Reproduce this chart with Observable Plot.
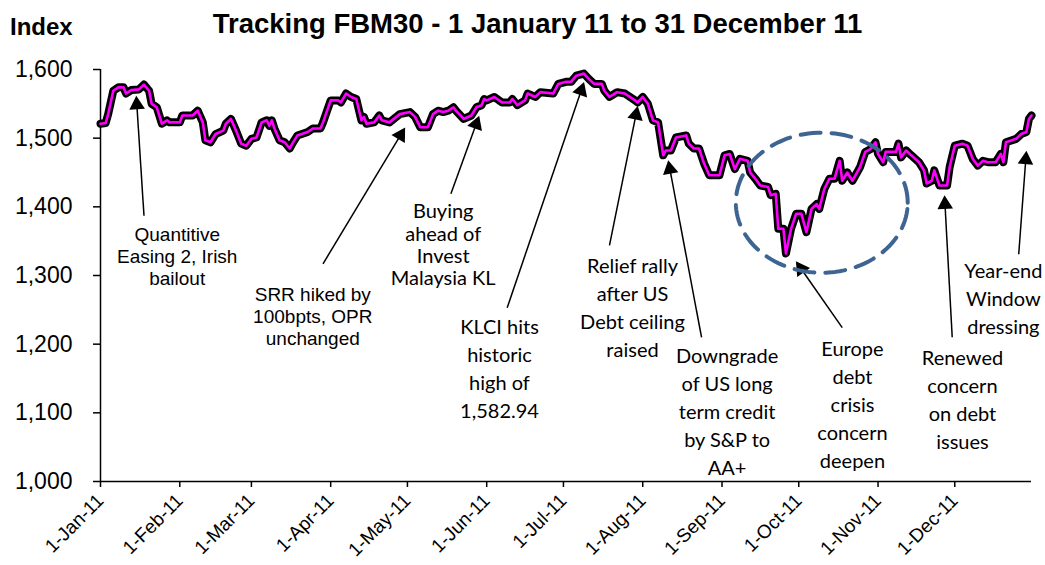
<!DOCTYPE html>
<html>
<head>
<meta charset="utf-8">
<script src="https://cdn.jsdelivr.net/npm/d3@7"></script>
<script src="https://cdn.jsdelivr.net/npm/@observablehq/plot@0.6"></script>
<style>
  body { margin: 0; background: #fff; }
  #wrap { position: relative; width: 1045px; height: 565px; overflow: hidden; }
  #head { position: relative; height: 52px; }
  #title { position: absolute; left: 0; width: 1075px; top: 8px; text-align: center;
           font: bold 27.5px "Liberation Sans", Arial, sans-serif; color: #000; white-space: nowrap; }
  #ylab { position: absolute; left: 10px; top: 13px; font: bold 24px "Liberation Sans", Arial, sans-serif; color: #000; }
</style>
</head>
<body>
<div id="wrap">
  <div id="head">
    <div id="title">Tracking FBM30 - 1 January 11 to 31 December 11</div>
    <div id="ylab">Index</div>
  </div>
  <div id="chart"></div>
</div>
<script>
// ---- data ----
const dates = [
  "2011-01-01","2011-01-03","2011-01-04","2011-01-06","2011-01-08","2011-01-10","2011-01-11","2011-01-13",
  "2011-01-16","2011-01-18","2011-01-20","2011-01-21","2011-01-23","2011-01-25","2011-01-27","2011-01-28",
  "2011-02-01","2011-02-02","2011-02-06","2011-02-08","2011-02-10","2011-02-11","2011-02-13","2011-02-15",
  "2011-02-18","2011-02-19","2011-02-21","2011-02-23","2011-02-25","2011-02-27","2011-03-01","2011-03-03",
  "2011-03-05","2011-03-07","2011-03-08","2011-03-09","2011-03-10","2011-03-12","2011-03-14","2011-03-16",
  "2011-03-17","2011-03-19","2011-03-23","2011-03-25","2011-03-28","2011-03-29","2011-04-01","2011-04-04",
  "2011-04-05","2011-04-07","2011-04-09","2011-04-11","2011-04-13","2011-04-14","2011-04-15","2011-04-18",
  "2011-04-20","2011-04-21","2011-04-24","2011-04-28","2011-05-02","2011-05-04","2011-05-06","2011-05-09",
  "2011-05-11","2011-05-13","2011-05-15","2011-05-17","2011-05-19","2011-05-20","2011-05-23","2011-05-26",
  "2011-05-28","2011-05-30","2011-05-31","2011-06-01","2011-06-04","2011-06-07","2011-06-10","2011-06-11",
  "2011-06-13","2011-06-16","2011-06-17","2011-06-20","2011-06-22","2011-06-27","2011-06-29","2011-07-02",
  "2011-07-04","2011-07-06","2011-07-09","2011-07-11","2011-07-13","2011-07-16","2011-07-17","2011-07-19",
  "2011-07-22","2011-07-25","2011-07-29","2011-07-30","2011-08-01","2011-08-03","2011-08-05","2011-08-07",
  "2011-08-09","2011-08-10","2011-08-12","2011-08-14","2011-08-18","2011-08-19","2011-08-21","2011-08-23",
  "2011-08-25","2011-08-27","2011-08-31","2011-09-02","2011-09-04","2011-09-06","2011-09-08","2011-09-11",
  "2011-09-12","2011-09-14","2011-09-16","2011-09-19","2011-09-20","2011-09-22","2011-09-23","2011-09-25",
  "2011-09-26","2011-09-28","2011-09-30","2011-10-02","2011-10-04","2011-10-06","2011-10-08","2011-10-09",
  "2011-10-11","2011-10-13","2011-10-15","2011-10-17","2011-10-18","2011-10-20","2011-10-22","2011-10-25",
  "2011-10-27","2011-10-29","2011-10-31","2011-11-01","2011-11-03","2011-11-04","2011-11-08","2011-11-09",
  "2011-11-10","2011-11-12","2011-11-14","2011-11-17","2011-11-19","2011-11-20","2011-11-22","2011-11-23",
  "2011-11-25","2011-11-28","2011-11-29","2011-12-01","2011-12-04","2011-12-06","2011-12-08","2011-12-10",
  "2011-12-12","2011-12-14","2011-12-17","2011-12-19","2011-12-20","2011-12-21","2011-12-25","2011-12-27",
  "2011-12-29","2011-12-30","2011-12-31"
];
const values = [
  1521,1522,1535,1569,1574,1574,1565,1570,
  1571,1578,1569,1550,1545,1521,1526,1523,
  1523,1533,1533,1540,1523,1497,1494,1506,
  1511,1521,1528,1511,1492,1489,1499,1501,
  1523,1526,1518,1526,1514,1497,1494,1485,
  1492,1504,1509,1514,1514,1523,1555,1555,
  1552,1565,1560,1557,1526,1531,1521,1523,
  1533,1526,1523,1535,1538,1531,1516,1516,
  1535,1540,1538,1540,1545,1540,1528,1533,
  1545,1548,1557,1555,1560,1552,1552,1557,
  1548,1555,1565,1560,1567,1565,1579,1582,
  1582,1591,1594,1586,1579,1579,1569,1560,
  1567,1565,1555,1552,1560,1550,1526,1523,
  1475,1482,1482,1501,1504,1492,1485,1485,
  1463,1446,1446,1475,1477,1455,1470,1467,
  1450,1441,1431,1429,1417,1419,1368,1368,
  1332,1368,1390,1390,1363,1397,1404,1397,
  1426,1441,1441,1467,1438,1450,1438,1458,
  1480,1484,1494,1477,1465,1480,1480,1492,
  1472,1482,1475,1465,1453,1434,1438,1453,
  1431,1431,1458,1489,1492,1489,1470,1460,
  1467,1465,1465,1477,1465,1494,1499,1506,
  1509,1528,1533
];
const xStart = "2011-01-01";
const xEnd = "2011-12-31";
const yTicks = [1000, 1100, 1200, 1300, 1400, 1500, 1600];
const monthTicks = ["2011-01-01","2011-02-01","2011-03-01","2011-04-01","2011-05-01","2011-06-01",
                    "2011-07-01","2011-08-01","2011-09-01","2011-10-01","2011-11-01","2011-12-01"];

// annotations
const noteLabels = [
  "Quantitive\nEasing 2, Irish\nbailout",
  "SRR hiked by\n100bpts, OPR\nunchanged",
  "Buying\nahead of\nInvest\nMalaysia KL",
  "KLCI hits\nhistoric\nhigh of\n1,582.94",
  "Relief rally\nafter US\nDebt ceiling\nraised",
  "Downgrade\nof US long\nterm credit\nby S&P to\nAA+",
  "Europe\ndebt\ncrisis\nconcern\ndeepen",
  "Renewed\nconcern\non debt\nissues",
  "Year-end\nWindow\ndressing"
];
const noteGroup = ["a","a","b","c","c","c","c","c","c"];
const noteX = ["2011-01-31","2011-03-25","2011-05-15","2011-06-06","2011-07-28","2011-09-03","2011-10-22","2011-12-04","2011-12-20"];
const noteY = [1329, 1241, 1345, 1166, 1255, 1104, 1114, 1121, 1269];
const tailX = ["2011-01-18","2011-03-29","2011-05-18","2011-06-09","2011-07-19","2011-08-24","2011-10-18","2011-11-30","2011-12-26"];
const tailY = [1387, 1317, 1419, 1253, 1344, 1210, 1224, 1210, 1331];
const tipX  = ["2011-01-15","2011-04-30","2011-05-29","2011-07-09","2011-07-30","2011-08-11","2011-09-30","2011-11-27","2011-12-29"];
const tipY  = [1561, 1515, 1532, 1581, 1546, 1467, 1320, 1416, 1481];

// dashed ellipse around the September/October sell-off
const ellipseCenterDate = "2011-10-10";
const ellipseCenterValue = 1406;
const ellipseRadiusDays = 33.6;
const ellipseRadiusValue = 102;

// ---- build ----
const series = dates.map((d, i) => ({date: new Date(d), value: values[i]}));
const notes = noteLabels.map((t, i) => ({text: t, group: noteGroup[i], x: new Date(noteX[i]), y: noteY[i]}));

const layout = {
  width: 1045, height: 513,
  marginLeft: 100, marginRight: 14, marginTop: 17, marginBottom: 84,
  x: {type: "utc", domain: [new Date(xStart), new Date(xEnd)]},
  y: {type: "linear", domain: [yTicks[0], yTicks[yTicks.length - 1]]},
  style: {fontFamily: "'Liberation Sans', Arial, sans-serif", background: "white", color: "black", overflow: "visible"}
};

const probe = Plot.plot({...layout, marks: [Plot.line(series, {x: "date", y: "value"})]});
const sx = probe.scale("x"), sy = probe.scale("y");

const arrows = noteLabels.map((t, i) => {
  const tx = sx.apply(new Date(tipX[i])), ty = sy.apply(tipY[i]);
  const ax = sx.apply(new Date(tailX[i])), ay = sy.apply(tailY[i]);
  const L = Math.hypot(tx - ax, ty - ay);
  const ux = (tx - ax) / L, uy = (ty - ay) / L;
  return {
    x1: new Date(tailX[i]), y1: tailY[i],
    x2: sx.invert(tx - ux * 11), y2: sy.invert(ty - uy * 11),
    hx: sx.invert(tx - ux * 8.5), hy: sy.invert(ty - uy * 8.5),
    rot: Math.atan2(ux, -uy) * 180 / Math.PI
  };
});

const DAY = 864e5;
const c0 = new Date(ellipseCenterDate).getTime();
const ellipse = d3.range(0, 361, 3).map(a => {
  const t = a * Math.PI / 180;
  return {date: new Date(c0 + Math.cos(t) * ellipseRadiusDays * DAY), value: ellipseCenterValue + Math.sin(t) * ellipseRadiusValue};
});

const chart = Plot.plot({
  ...layout,
  marks: [
    Plot.axisY(yTicks, {tickSize: 7, tickPadding: 21, fontSize: 23, tickFormat: d3.format(","), label: null, strokeWidth: 1.5}),
    Plot.axisX(monthTicks.map(d => new Date(d)), {tickSize: 6, tickPadding: 10, tickRotate: -45, fontSize: 19,
      tickFormat: d3.utcFormat("%-d-%b-%y"), label: null, strokeWidth: 1.5}),
    Plot.ruleX([new Date(xStart)], {y1: yTicks[0], y2: yTicks[yTicks.length - 1], stroke: "black", strokeWidth: 1.5}),
    Plot.ruleY([yTicks[0]], {stroke: "black", strokeWidth: 1.5}),
    Plot.line(series, {x: "date", y: "value", stroke: "black", strokeWidth: 8, strokeLinejoin: "round", strokeLinecap: "round"}),
    Plot.line(series, {x: "date", y: "value", stroke: "#ff00ff", strokeWidth: 2.6, strokeLinejoin: "round"}),
    Plot.link(arrows, {x1: "x1", y1: "y1", x2: "x2", y2: "y2", stroke: "black", strokeWidth: 1.5}),
    Plot.dot(arrows, {x: "hx", y: "hy", symbol: "triangle", r: 5.8, fill: "black", stroke: "none", rotate: "rot"}),
    Plot.text(notes.filter(d => d.group === "a"), {x: "x", y: "y", text: "text", fontSize: 19, lineHeight: 1.16,
      fontFamily: "'Liberation Sans', Arial, sans-serif", textAnchor: "middle", lineAnchor: "middle", fill: "black"}),
    Plot.text(notes.filter(d => d.group === "b"), {x: "x", y: "y", text: "text", fontSize: 20, lineHeight: 1.12,
      fontFamily: "Lato, sans-serif", textAnchor: "middle", lineAnchor: "middle", fill: "black"}),
    Plot.text(notes.filter(d => d.group === "c"), {x: "x", y: "y", text: "text", fontSize: 20, lineHeight: 1.4,
      fontFamily: "Lato, sans-serif", textAnchor: "middle", lineAnchor: "middle", fill: "black"}),
    Plot.line(ellipse, {x: "date", y: "value", stroke: "#3e6491", strokeWidth: 4, strokeDasharray: "20,11"})
  ]
});
document.getElementById("chart").append(chart);
</script>
</body>
</html>
